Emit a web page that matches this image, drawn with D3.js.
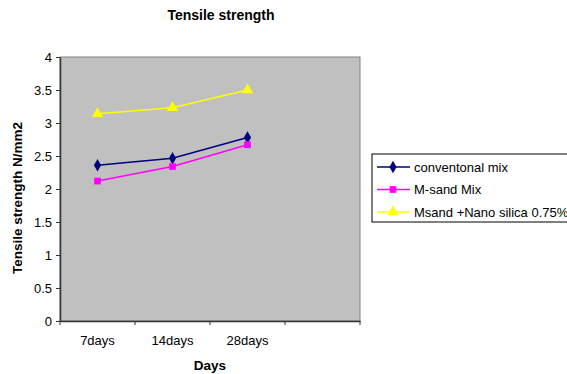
<!DOCTYPE html>
<html>
<head>
<meta charset="utf-8">
<script src="https://cdn.jsdelivr.net/npm/d3@7"></script>
<style>
  body { margin: 0; background: #fff; }
  text { font-family: "Liberation Sans", Arial, sans-serif; }
  .titulo { font-weight: bold; font-size: 14px; }
  .eje-titulo { font-weight: bold; font-size: 13.5px; }
  .axis text { font-size: 13px; fill: #000; }
  .axis path, .axis line { stroke: #333; }
</style>
</head>
<body>
<div id="graf"></div>
<script>
// Datos
const categorias = ["7days", "14days", "28days", ""]
const conventional = [2.36, 2.465, 2.78]
const msand = [2.12, 2.34, 2.67]
const nano = [3.14, 3.23, 3.5]
const yTicks = [0, 0.5, 1, 1.5, 2, 2.5, 3, 3.5, 4]

const series = [
  { nombre: "conventonal mix", valores: conventional, color: "#000080", simbolo: d3.symbolDiamond },
  { nombre: "M-sand Mix", valores: msand, color: "#ff00ff", simbolo: d3.symbolSquare },
  { nombre: "Msand +Nano silica 0.75%", valores: nano, color: "#ffff00", simbolo: d3.symbolTriangle },
]

// Dimensiones
const anchoTotal = 567
const altoTotal = 374
const margins = { top: 57, left: 60 }
const ancho = 300
const alto = 264

const svg = d3.select("#graf")
  .append("svg")
  .attr("width", anchoTotal)
  .attr("height", altoTotal)

const g = svg.append("g")
  .attr("transform", `translate(${margins.left}, ${margins.top})`)

// Escaladores
const x = d3.scaleBand().domain(categorias).range([0, ancho])
const y = d3.scaleLinear().domain([0, 4]).range([alto, 0])

// Fondo
g.append("rect")
  .attr("width", ancho)
  .attr("height", alto)
  .attr("fill", "#c0c0c0")
  .attr("stroke", "#808080")

// Ejes
const xAxis = d3.axisBottom(x).tickSize(4).tickSizeOuter(0).tickFormat("")
const xg = g.append("g")
  .attr("transform", `translate(0, ${alto})`)
  .classed("axis", true)
  .call(xAxis)
xg.selectAll(".tick line").attr("transform", `translate(${-x.bandwidth() / 2}, 0)`)
xg.append("line").attr("x1", ancho).attr("x2", ancho).attr("y1", 0).attr("y2", 4).attr("stroke", "#333")
xg.select(".domain").attr("stroke-width", 1.5)
xg.selectAll(".lbl")
  .data(categorias)
  .enter()
  .append("text")
  .attr("x", (d) => x(d) + x.bandwidth() / 2)
  .attr("y", 24)
  .attr("text-anchor", "middle")
  .style("font-size", "13px")
  .text((d) => d)

const yAxis = d3.axisLeft(y).tickValues(yTicks).tickSize(4).tickSizeOuter(0).tickFormat(d3.format(""))
const yg = g.append("g").classed("axis", true).call(yAxis)
yg.select(".domain").attr("stroke-width", 1.5)
yg.selectAll(".tick text").attr("x", -8)

// Líneas
const linea = d3.line()
  .x((d, i) => x(categorias[i]) + x.bandwidth() / 2)
  .y((d) => y(d))

series.forEach((s) => {
  g.append("path")
    .datum(s.valores)
    .attr("d", linea)
    .attr("fill", "none")
    .attr("stroke", s.color)
    .attr("stroke-width", 1.5)
  g.selectAll(null)
    .data(s.valores)
    .enter()
    .append("path")
    .attr("d", d3.symbol().type(s.simbolo).size(s.simbolo === d3.symbolTriangle ? 55 : 45))
    .attr("transform", (d, i) => `translate(${x(categorias[i]) + x.bandwidth() / 2}, ${y(d)})`)
    .attr("fill", s.color)
})

// Títulos
svg.append("text")
  .attr("x", 221)
  .attr("y", 20)
  .attr("text-anchor", "middle")
  .classed("titulo", true)
  .text("Tensile strength")

svg.append("text")
  .attr("x", 210)
  .attr("y", 370)
  .attr("text-anchor", "middle")
  .classed("eje-titulo", true)
  .text("Days")

svg.append("text")
  .attr("transform", `translate(22, ${margins.top + alto / 2 + 9}) rotate(-90)`)
  .attr("text-anchor", "middle")
  .classed("eje-titulo", true)
  .text("Tensile strength N/mm2")

// Leyenda
const leyenda = svg.append("g").attr("transform", "translate(372, 154)")
leyenda.append("rect")
  .attr("width", 200)
  .attr("height", 68)
  .attr("fill", "#fff")
  .attr("stroke", "#000")

const item = leyenda.selectAll(".item")
  .data(series)
  .enter()
  .append("g")
  .attr("transform", (d, i) => `translate(0, ${13 + i * 22.5})`)

item.append("line")
  .attr("x1", 5).attr("x2", 38)
  .attr("stroke", (d) => d.color)
  .attr("stroke-width", 1.5)
item.append("path")
  .attr("d", (d) => d3.symbol().type(d.simbolo).size(d.simbolo === d3.symbolTriangle ? 55 : 45)())
  .attr("transform", "translate(21, 0)")
  .attr("fill", (d) => d.color)
item.append("text")
  .attr("x", 42)
  .attr("y", 4.5)
  .style("font-size", "13px")
  .text((d) => d.nombre)
</script>
</body>
</html>
